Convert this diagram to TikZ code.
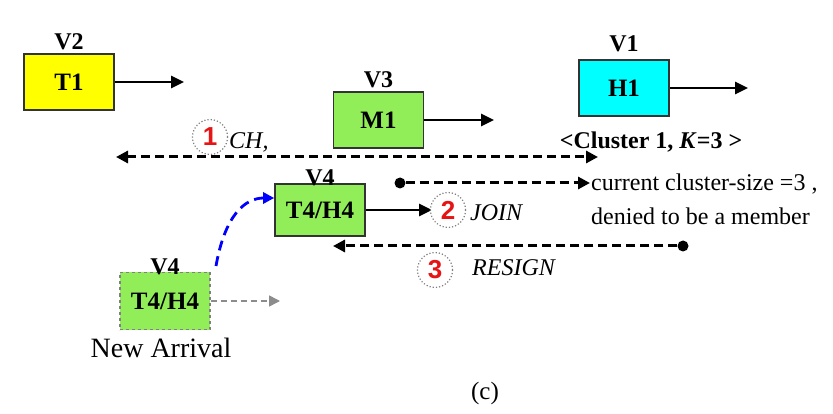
\documentclass[tikz,border=0pt]{standalone}
\usepackage{fontspec}
\setmainfont{Liberation Serif}
\newfontfamily\numfont{Liberation Sans}
\usetikzlibrary{arrows.meta,calc}
\definecolor{boxgreen}{RGB}{146,238,88}
\definecolor{boxyellow}{RGB}{255,255,0}
\definecolor{boxcyan}{RGB}{0,255,255}
\definecolor{numred}{RGB}{230,20,20}
\definecolor{arrgray}{RGB}{140,140,140}
\tikzset{
  vbox/.style={draw=black!80, line width=1.6pt, minimum width=90pt, minimum height=56pt,
    inner sep=0pt, font=\fontsize{25}{28}\selectfont\bfseries},
  vlabel/.style={font=\fontsize{24}{26}\selectfont\bfseries, inner sep=1pt, anchor=south},
  movearrow/.style={line width=2.8pt, -{Triangle[length=13pt,width=12pt]}},
  msg/.style={line width=3pt, dash pattern=on 9pt off 5pt},
  msgtip/.style={-{Triangle[length=12pt,width=12pt]}},
  stepcirc/.style={circle, draw=gray, dotted, line width=1.2pt, fill=white, minimum size=35pt,
    inner sep=0pt, font=\numfont\fontsize{26}{28}\selectfont\bfseries\color{numred}},
  msglabel/.style={font=\fontsize{24}{26}\selectfont\itshape, anchor=west, inner sep=0pt},
  plaintext/.style={font=\fontsize{24}{26}\selectfont, anchor=west, inner sep=0pt},
  dot/.style={circle, fill=black, minimum size=11pt, inner sep=0pt}
}
\begin{document}
\begin{tikzpicture}[x=1pt,y=-1pt]
\useasboundingbox (0,0) rectangle (833,414);
% boxes
\node[vbox, fill=boxyellow] (t1) at (69,82) {T1};
\node[vlabel] (v2) at ($(t1.north)+(0,-2)$) {V2};
\coordinate (t1e) at (184,82);
\draw[movearrow] (t1.east) -- (t1e);

\node[vbox, fill=boxgreen] (m1) at (378.5,120) {M1};
\node[vlabel] (v3) at ($(m1.north)+(0,-2)$) {V3};
\coordinate (m1e) at (494,120);
\draw[movearrow] (m1.east) -- (m1e);

\node[vbox, fill=boxcyan] (h1) at (624,88) {H1};
\node[vlabel] (v1) at ($(h1.north)+(0,-6)$) {V1};
\coordinate (h1e) at (748,88);
\draw[movearrow] (h1.east) -- (h1e);
\node[font=\fontsize{24}{26}\selectfont\bfseries, inner sep=0pt] (cl) at (651,142) {<Cluster 1, \textit{K}=3 >};

\node[vbox, fill=boxgreen, minimum height=52pt] (t4) at (320,210) {T4/H4};
\node[vlabel] (v4) at ($(t4.north)+(0,4)$) {V4};

\node[vbox, fill=boxgreen, dashed, draw=gray, line width=1.2pt, minimum height=57pt] (na) at (165,301) {T4/H4};
\node[vlabel] (v4b) at ($(na.north)+(0,4)$) {V4};
\node[font=\fontsize{28}{30}\selectfont, inner sep=0pt] (natext) at (161,348) {New Arrival};
\coordinate (nae) at (280,301);
\draw[line width=1.5pt, draw=arrgray, dash pattern=on 6pt off 4pt, -{Triangle[length=11pt,width=11pt]}, arrgray] (na.east) -- (nae);

% blue move
\coordinate (bstart) at (216,266);
\draw[blue, line width=2.8pt, dash pattern=on 10pt off 6pt, -{Triangle[length=11pt,width=11pt]}]
  (bstart) .. controls (225,215) and (245,198) .. (t4.west |- 0,198);

% CH message
\coordinate (chl) at (116,157);
\coordinate (chr) at (598,157);
\draw[msg, {Triangle[length=12pt,width=12pt]}-{Triangle[length=12pt,width=12pt]}] (chl) -- (chr);
\node[stepcirc] (c1) at (210,137) {1};
\node[msglabel] (ch) at (229,142) {CH,};

% JOIN
\coordinate (j1e) at (432,210);
\draw[movearrow] (t4.east) -- (j1e);
\node[stepcirc] (c2) at (448,210) {2};
\node[msglabel] (join) at (470,213) {JOIN};

% reply
\node[dot] (d1) at (400,183) {};
\coordinate (d1e) at (590,183);
\draw[msg, msgtip] (d1) -- (d1e);
\node[plaintext] (txt1) at (591,184) {current cluster-size =3 ,};
\node[plaintext] (txt2) at (591,216) {denied to be a member};

% RESIGN
\node[dot] (d2) at (683,246) {};
\coordinate (d2e) at (333,246);
\draw[msg, msgtip] (d2) -- (d2e);
\node[stepcirc] (c3) at (435,270) {3};
\node[msglabel] (resign) at (472,268) {RESIGN};

\node[font=\fontsize{25}{28}\selectfont, inner sep=0pt] (cap) at (485,393) {(c)};
\end{tikzpicture}
\end{document}
